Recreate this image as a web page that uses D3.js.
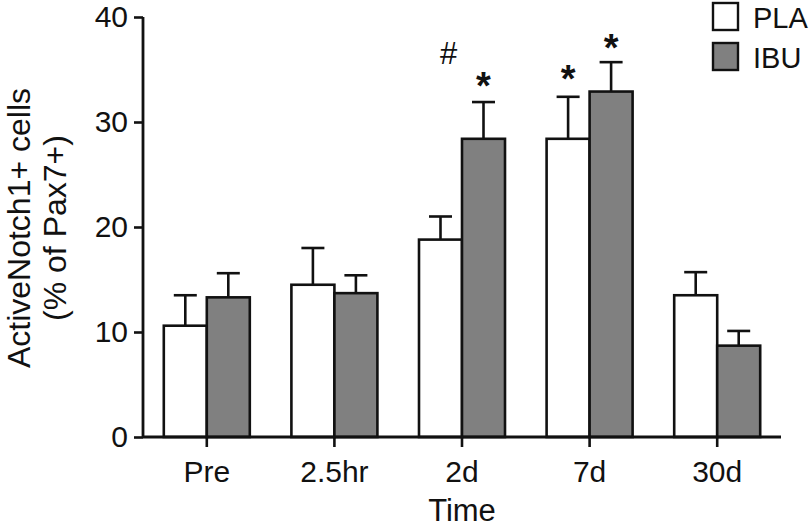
<!DOCTYPE html>
<html>
<head>
<meta charset="utf-8">
<script src="https://cdn.jsdelivr.net/npm/d3@7"></script>
<style>
  html, body { margin: 0; padding: 0; background: #fff; }
  svg { display: block; }
  text { font-family: Arial, "Liberation Sans", Helvetica, sans-serif; fill: #111; }
</style>
</head>
<body>
<svg id="chart" width="812" height="528"></svg>
<script>
// ---- data ----
const categories = ["Pre", "2.5hr", "2d", "7d", "30d"];
const seriesNames = ["PLA", "IBU"];
const plaMean = [10.6, 14.5, 18.8, 28.4, 13.5];
const plaErr  = [2.9, 3.5, 2.2, 4.0, 2.2];
const ibuMean = [13.3, 13.7, 28.4, 32.9, 8.7];
const ibuErr  = [2.3, 1.7, 3.5, 2.8, 1.4];
const yTicks = [0, 10, 20, 30, 40];
// annotations: [category, series, symbol, level (data units)]
const annCategory = ["2d", "2d", "7d", "7d"];
const annSeries   = ["PLA", "IBU", "PLA", "IBU"];
const annSymbol   = ["#", "*", "*", "*"];
const annLevel    = [36.6, 34.2, 34.9, 37.8];

// ---- build ----
const svg = d3.select("#chart");
const colors = d3.scaleOrdinal().domain(seriesNames).range(["#ffffff", "#808080"]);

const x0 = d3.scaleBand().domain(categories).range([143, 781]).paddingInner(0).paddingOuter(0);
const x1 = d3.scaleBand().domain(seriesNames).range([-43, 43]);
const y = d3.scaleLinear().domain([0, 40]).range([437, 17]);

const rows = [];
categories.forEach((c, i) => {
  rows.push({cat: c, s: "PLA", v: plaMean[i], e: plaErr[i]});
  rows.push({cat: c, s: "IBU", v: ibuMean[i], e: ibuErr[i]});
});
const cx = d => x0(d.cat) + x0.bandwidth() / 2;

// error bars (behind bars)
const eg = svg.append("g").attr("stroke", "#111").attr("stroke-width", 2.6);
eg.selectAll("line.v").data(rows).join("line")
  .attr("x1", d => cx(d) + x1(d.s) + x1.bandwidth() / 2)
  .attr("x2", d => cx(d) + x1(d.s) + x1.bandwidth() / 2)
  .attr("y1", d => y(d.v)).attr("y2", d => y(d.v + d.e));
eg.selectAll("line.c").data(rows).join("line")
  .attr("x1", d => cx(d) + x1(d.s) + x1.bandwidth() / 2 - 11.5)
  .attr("x2", d => cx(d) + x1(d.s) + x1.bandwidth() / 2 + 11.5)
  .attr("y1", d => y(d.v + d.e)).attr("y2", d => y(d.v + d.e));

// bars
svg.append("g").selectAll("rect").data(rows).join("rect")
  .attr("x", d => cx(d) + x1(d.s))
  .attr("width", x1.bandwidth())
  .attr("y", d => y(d.v))
  .attr("height", d => y(0) - y(d.v))
  .attr("fill", d => colors(d.s))
  .attr("stroke", "#111").attr("stroke-width", 2.6);

// y axis
const yAxis = svg.append("g").attr("transform", "translate(143,0)")
  .call(d3.axisLeft(y).tickValues(yTicks).tickSize(9).tickPadding(6).tickFormat(d3.format("d")));
yAxis.select(".domain").attr("stroke", "#111").attr("stroke-width", 2.8).attr("d", "M0," + y(40) + "V" + y(0));
yAxis.selectAll(".tick line").attr("stroke", "#111").attr("stroke-width", 2.6);
yAxis.selectAll(".tick text").style("font-size", "30px").attr("fill", "#111")
  .attr("font-family", "Arial, 'Liberation Sans', sans-serif");

// x axis
const xAxis = svg.append("g").attr("transform", "translate(0," + y(0) + ")")
  .call(d3.axisBottom(x0).tickSize(10).tickPadding(14));
xAxis.select(".domain").attr("stroke", "#111").attr("stroke-width", 2.8).attr("d", "M143,0H781");
xAxis.selectAll(".tick line").attr("stroke", "#111").attr("stroke-width", 2.6);
xAxis.selectAll(".tick text").style("font-size", "30px").attr("fill", "#111")
  .attr("font-family", "Arial, 'Liberation Sans', sans-serif");

// axis titles
svg.append("text").attr("x", 462).attr("y", 521).attr("text-anchor", "middle")
  .style("font-size", "31px").text("Time");
const yt = svg.append("text").attr("transform", "translate(0,228) rotate(-90)")
  .attr("text-anchor", "middle").style("font-size", "32px");
yt.append("tspan").attr("x", 0).attr("y", 30).text("ActiveNotch1+ cells");
yt.append("tspan").attr("x", 0).attr("y", 66).text("(% of Pax7+)");

// annotations
annSymbol.forEach((sym, i) => {
  const bx = x0(annCategory[i]) + x0.bandwidth() / 2 + x1(annSeries[i]) + x1.bandwidth() / 2;
  if (sym === "#") {
    svg.append("text").attr("x", bx + 8).attr("y", y(annLevel[i]) + 11)
      .attr("text-anchor", "middle").style("font-size", "31px").text(sym);
  } else {
    svg.append("text").attr("x", bx).attr("y", y(annLevel[i]) + 21)
      .attr("text-anchor", "middle").style("font-size", "38px").style("font-weight", "bold").text(sym);
  }
});

// legend
const lg = svg.append("g").attr("transform", "translate(713,3)");
seriesNames.forEach((s, i) => {
  const g = lg.append("g").attr("transform", "translate(0," + (i * 40) + ")");
  g.append("rect").attr("x", 0).attr("y", 0).attr("width", 25).attr("height", 27)
    .attr("fill", colors(s)).attr("stroke", "#111").attr("stroke-width", 2.4);
  g.append("text").attr("x", 40).attr("y", 24.5).style("font-size", "29px").text(s);
});
</script>
</body>
</html>
